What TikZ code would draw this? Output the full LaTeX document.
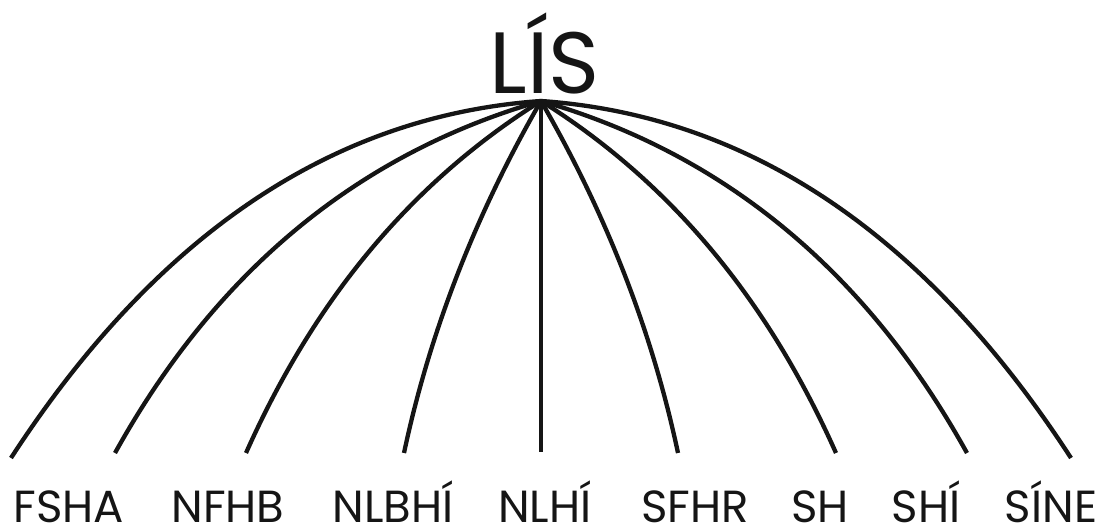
\documentclass[tikz,border=0pt]{standalone}
\usepackage{fontspec}
\setmainfont{Poppins}
\usepackage{tikz}
\definecolor{lisBlack}{HTML}{151515}
\tikzset{
  rootlabel/.style={font=\fontsize{87}{87}\selectfont, text=lisBlack, inner sep=0pt, anchor=base},
  leaflabel/.style={font=\fontsize{45}{45}\selectfont, text=lisBlack, inner sep=0pt, anchor=base},
  branch/.style={line width=4.3pt, draw=lisBlack},
}

\begin{document}
\begin{tikzpicture}[x=1pt,y=1pt]
  \useasboundingbox (0,0) rectangle (1104,529);

  \node[rootlabel] (lis) at (545,435) {LÍS};
  \coordinate (top) at (541,428);

  % free ends of the branches
  \foreach \n/\x/\y in {e1/11/71, e2/115/76, e3/246/76, e4/404/76, e5/541/77,
                        e6/678/76, e7/836/76, e8/967/76, e9/1071/71} {
    \coordinate (\n) at (\x,\y);
  }

  \draw[branch] (top) -- (e5);
  \foreach \n/\a/\s/\b/\t in {e1/184/209/57/266, e2/196/190/61/208, e3/212/151/66/170, e4/240/131/78/124,
                              e9/-4/209/123/266, e8/-16/190/119/208, e7/-32/151/114/170, e6/-60/131/102/124} {
    \draw[branch] (top) .. controls +(\a:\s) and +(\b:\t) .. (\n);
  }

  \node[leaflabel] (fsha) at (69,6) {FSHA};
  \node[leaflabel] (nfhb) at (228,6) {NFHB};
  \node[leaflabel] (nlbhi) at (393,6) {NLBHÍ};
  \node[leaflabel] (nlhi) at (545,6) {NLHÍ};
  \node[leaflabel] (sfhr) at (695,6) {SFHR};
  \node[leaflabel] (sh) at (820,6) {SH};
  \node[leaflabel] (shi) at (926,6) {SHÍ};
  \node[leaflabel] (sine) at (1051,6) {SÍNE};
\end{tikzpicture}
\end{document}
